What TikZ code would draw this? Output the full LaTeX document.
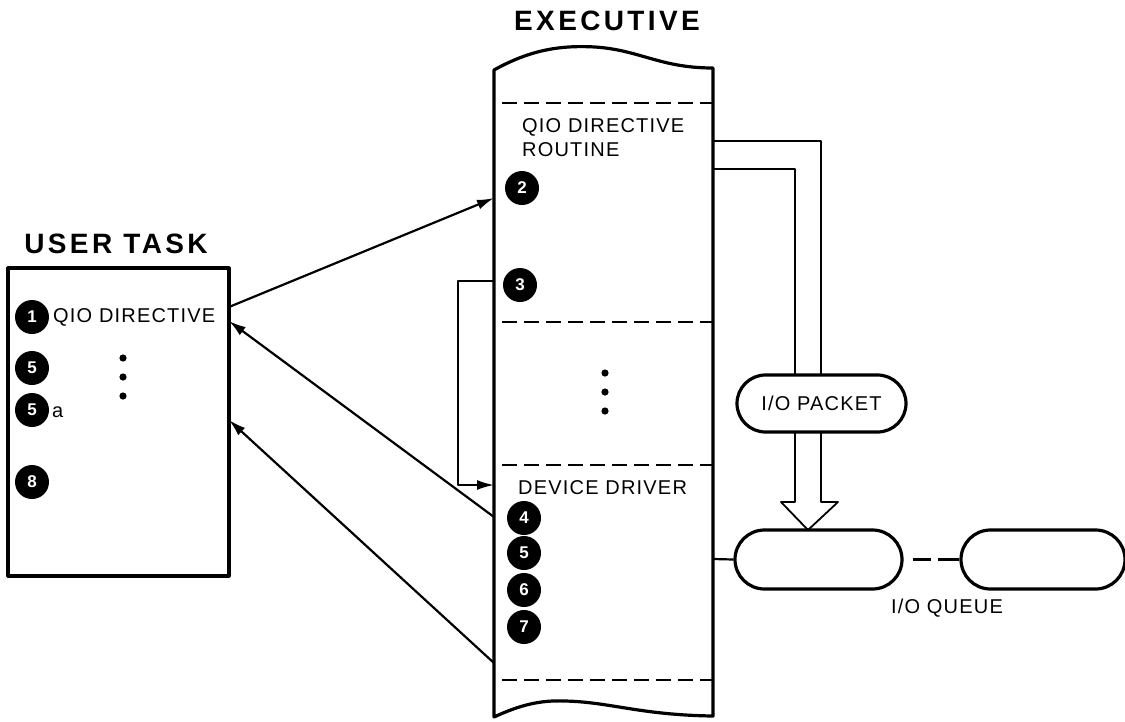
\documentclass[tikz,border=0pt]{standalone}
\usepackage{fontspec}
\setmainfont{Liberation Sans}[LetterSpace=6]
\newfontfamily\titlefont{Liberation Sans}[LetterSpace=12]
\usetikzlibrary{shapes.misc,arrows.meta}
\newcommand{\ioDots}[2]{%
    \foreach \k in {0,1,2} {
        \fill (#1,#2+\k*19) circle (3.6);
    }
}
\begin{document}
\begin{tikzpicture}[x=1pt, y=-1pt, line join=round,
    bullet/.style={circle, fill=black, text=white, minimum size=34pt, inner sep=0pt,
        font=\bfseries\fontsize{17}{17}\selectfont},
    lbl/.style={font=\fontsize{20}{24}\selectfont, inner sep=0pt},
    ttl/.style={font=\titlefont\bfseries\fontsize{28}{32}\selectfont},
    pill/.style={rounded rectangle, draw, line width=3.2pt, inner sep=0pt},
    link/.style={line width=2.2pt, -{Latex[length=17pt,width=10pt]}}]
    \useasboundingbox (0,0) rectangle (1125,721);
    \node[ttl] (exTitle) at (607,21) {EXECUTIVE};
    \node[ttl] (usrTitle) at (116,244) {USER TASK};
    \draw[line width=3.2pt] (494,717) -- (494,70)
        .. controls (530,50) and (560,45) .. (595,47)
        .. controls (640,50) and (660,68) .. (713,68) -- (713,716)
        .. controls (640,715) and (610,702) .. (565,701)
        .. controls (540,700) and (520,705) .. (494,717) -- cycle;
    \foreach \y in {103,322,465,680} {
        \draw[line width=2.6pt, dash pattern=on 15pt off 7pt] (502,\y) -- (713,\y);
    }
    \node[lbl, anchor=base west] (qdrA) at (522,132) {QIO DIRECTIVE};
    \node[lbl, anchor=base west] (qdrB) at (522,156) {ROUTINE};
    \node[lbl, anchor=base west] (devDrv) at (518,494) {DEVICE DRIVER};
    \node[bullet] (x2) at (522,188) {2};
    \node[bullet] (x3) at (520,285) {3};
    \foreach \n/\y in {4/518, 5/553, 6/590, 7/627} {
        \node[bullet] (x\n) at (524,\y) {\n};
    }
    \ioDots{605}{373}
    \node[draw, line width=3.2pt, minimum width=221pt, minimum height=308pt, inner sep=0pt] (usr) at (118.5,422) {};
    \node[bullet] (b1) at (32,317) {1};
    \node[bullet] (b5) at (32,368) {5};
    \node[bullet] (b5a) at (32,410) {5};
    \node[bullet] (b8) at (32,482) {8};
    \node[lbl, anchor=base west] (qioDir) at (53,322) {QIO DIRECTIVE};
    \node[lbl, anchor=base west] (b5aTag) at (52,417) {a};
    \ioDots{123}{358}
    \coordinate (uOut) at (229,307);
    \coordinate (uIn1) at (229,321);
    \coordinate (uIn2) at (229,420);
    \coordinate (xIn) at (494,198);
    \coordinate (xOut1) at (494,517);
    \coordinate (xOut2) at (494,663);
    \coordinate (x3Out) at (494,281);
    \coordinate (ddIn) at (494,485);
    \draw[link] (uOut) -- (xIn);
    \draw[link] (xOut1) -- (uIn1);
    \draw[link] (xOut2) -- (uIn2);
    \draw[link, line width=2pt] (x3Out) -- (458,281) |- (ddIn);
    \node[pill, lbl, minimum width=169pt, minimum height=57pt] (pkt) at (821.5,403.5) {I/O PACKET};
    \node[pill, minimum width=167pt, minimum height=59pt] (q1) at (818.5,559.5) {};
    \node[pill, minimum width=164pt, minimum height=59pt] (q2) at (1043,559.5) {};
    \node[lbl] (qLbl) at (947,608) {I/O QUEUE};
    \coordinate (hoOut) at (713,141);
    \coordinate (hoIn) at (713,169);
    \draw[line width=1.8pt] (hoOut) -| (821,375);
    \draw[line width=1.8pt] (hoIn) -| (795,375);
    \draw[line width=1.8pt] (795,432) -- (795,502) -- (781,502) -- (808,530)
        -- (838,502) -- (821,502) -- (821,432);
    \coordinate (qLink) at (713,559);
    \draw[line width=2.2pt] (qLink) -- (q1.west);
    \draw[line width=2.4pt, dash pattern=on 0pt off 9pt on 18pt off 7pt on 30pt] (q1.east) -- (q2.west);
\end{tikzpicture}
\end{document}
